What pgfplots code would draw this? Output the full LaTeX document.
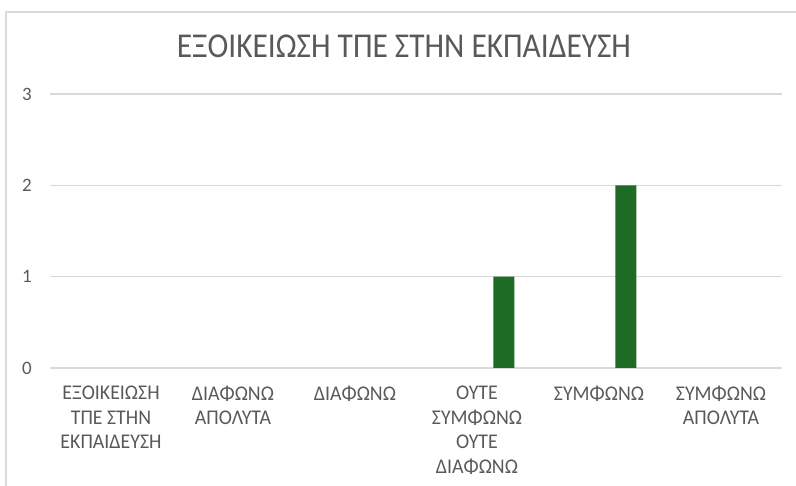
\documentclass[border=0pt]{standalone}
\usepackage{pgfplots}
\pgfplotsset{compat=1.18}
\usepackage{fontspec}
\setmainfont{Carlito}
\newfontfamily\titlefont[FakeStretch=0.9]{Carlito}
\newfontfamily\labfont[FakeStretch=0.95]{Carlito}
\definecolor{txt}{HTML}{595959}
\definecolor{gridc}{HTML}{D9D9D9}
\definecolor{barc}{HTML}{1E6B25}
\begin{document}
\begin{tikzpicture}[x=1bp,y=1bp]
\useasboundingbox (0,0) rectangle (796,486);
\draw[gridc, line width=1.5bp] (6,0) -- (6,474) -- (796,474);
\begin{axis}[
  at={(50bp,118bp)}, anchor=south west,
  scale only axis, width=732bp, height=274bp,
  xmin=-0.5, xmax=5.5, ymin=0, ymax=3,
  ytick={0,1,2,3}, xtick={0,1,2,3,4,5},
  xticklabels={{ΕΞΟΙΚΕΙΩΣΗ\\ΤΠΕ ΣΤΗΝ\\ΕΚΠΑΙΔΕΥΣΗ},{ΔΙΑΦΩΝΩ\\ΑΠΟΛΥΤΑ},{ΔΙΑΦΩΝΩ},{ΟΥΤΕ\\ΣΥΜΦΩΝΩ\\ΟΥΤΕ\\ΔΙΑΦΩΝΩ},{ΣΥΜΦΩΝΩ},{ΣΥΜΦΩΝΩ\\ΑΠΟΛΥΤΑ}},
  axis line style={draw=none},
  major tick length=0pt,
  tick style={draw=none},
  ymajorgrids, grid style={gridc, line width=1.5bp},
  /pgf/number format/assume math mode=true,
  yticklabel style={anchor=center, xshift=-23bp, text=txt, font=\fontsize{19}{20}\selectfont},
  xticklabel style={anchor=north, align=center, yshift=-14bp, text=txt, font=\labfont\fontsize{21}{25}\selectfont},
]
\addplot[ybar, bar width=0.172, bar shift=0.221, fill=barc, draw=none,
  restrict y to domain=0.01:10]
  coordinates {(0,0) (1,0) (2,0) (3,1) (4,2) (5,0)};
\end{axis}
\node[text=txt, font=\titlefont\fontsize{35}{35}\selectfont] at (404,440) {ΕΞΟΙΚΕΙΩΣΗ ΤΠΕ ΣΤΗΝ ΕΚΠΑΙΔΕΥΣΗ};
\end{tikzpicture}
\end{document}
